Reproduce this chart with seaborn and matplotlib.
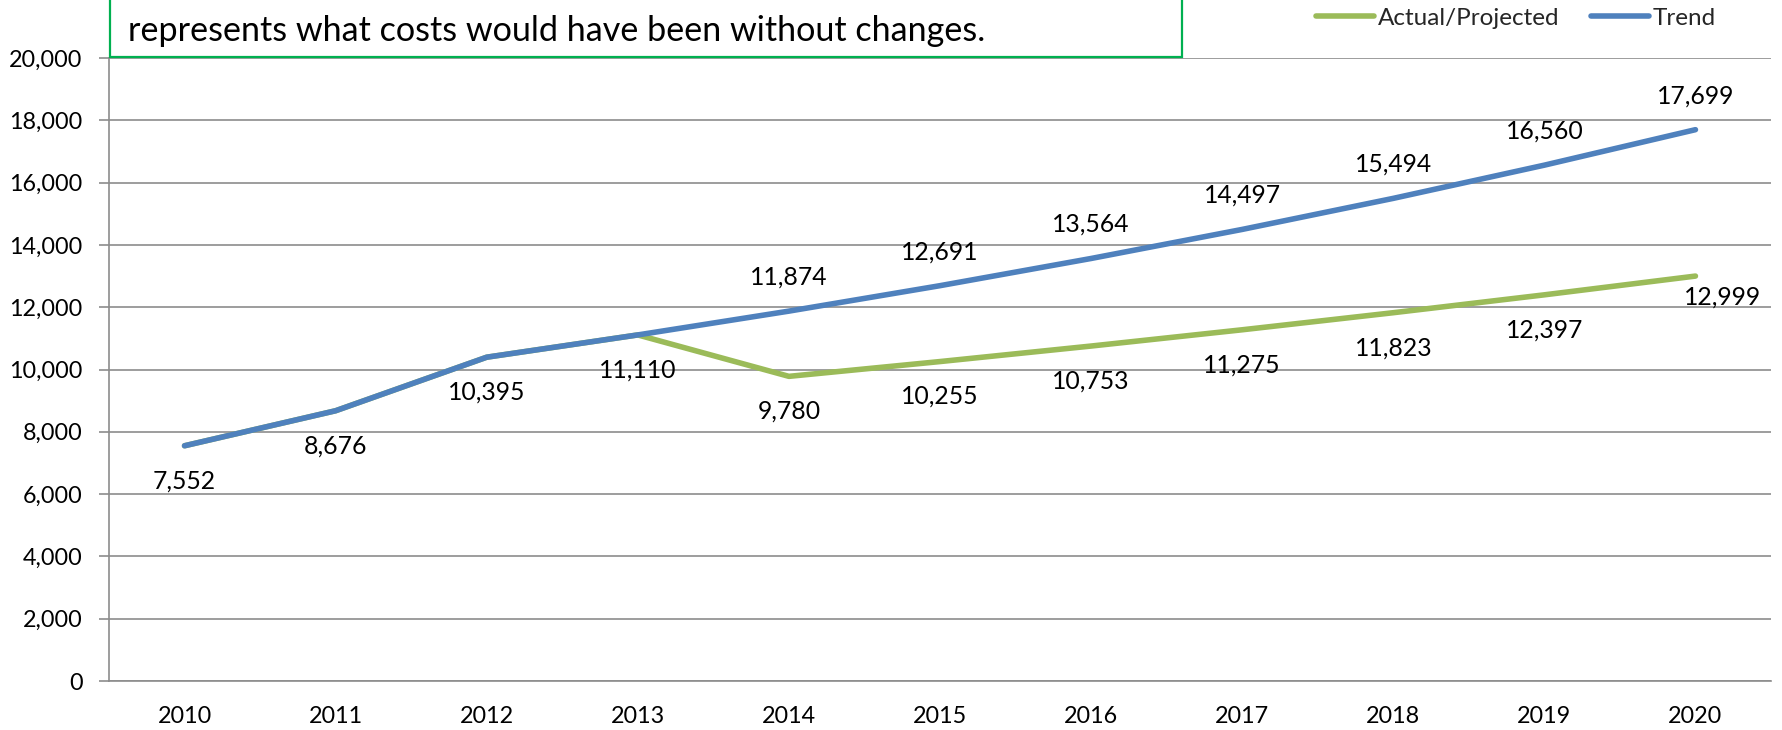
import numpy as np
import pandas as pd
import matplotlib
matplotlib.use("Agg")
import matplotlib.pyplot as plt
from matplotlib.patches import Rectangle
import seaborn as sns

years = [2010, 2011, 2012, 2013, 2014, 2015, 2016, 2017, 2018, 2019, 2020]
actual_projected = [7552, 8676, 10395, 11110, 9780, 10255, 10753, 11275, 11823, 12397, 12999]
trend = [7552, 8676, 10395, 11110, 11874, 12691, 13564, 14497, 15494, 16560, 17699]
y_ticks = [0, 2000, 4000, 6000, 8000, 10000, 12000, 14000, 16000, 18000, 20000]
note_text = "represents what costs would have been without changes."

series_names = ["Actual/Projected", "Trend"]
palette = {"Actual/Projected": "#9BBB59", "Trend": "#4F81BD"}

pos = np.arange(len(years))
df = pd.concat([
    pd.DataFrame({"pos": pos, "value": actual_projected, "series": series_names[0]}),
    pd.DataFrame({"pos": pos, "value": trend, "series": series_names[1]}),
])

sns.set_theme(style="white")
plt.rcParams["font.family"] = ["Lato", "DejaVu Sans"]

W, H, DPI = 1782, 730, 100
fig = plt.figure(figsize=(W / DPI, H / DPI), dpi=DPI)
ax = fig.add_axes([109 / W, 1 - 681 / H, (1771 - 109) / W, (681 - 58) / H])

axis_grey = "#8C8C8C"
sns.lineplot(data=df, x="pos", y="value", hue="series", hue_order=series_names,
             palette=palette, linewidth=4.0, ax=ax, legend=False,
             solid_capstyle="round", solid_joinstyle="round")

ax.set_xlim(-0.5, len(years) - 0.5)
ax.set_ylim(0, 20000)
ax.set_yticks(y_ticks)
ax.set_yticklabels([f"{v:,}" for v in y_ticks], fontsize=16.8, color="black")
ax.set_xticks(pos)
ax.set_xticklabels([str(y) for y in years], fontsize=16.8, color="black")
ax.set_xticks(np.arange(-0.5, len(years)), minor=True)
ax.tick_params(axis="x", which="major", length=0, pad=18)
ax.tick_params(axis="x", which="minor", length=7, width=1.2, color=axis_grey, direction="out")
ax.tick_params(axis="y", which="major", length=7, width=1.2, color=axis_grey,
               direction="out", pad=12, left=True)
ax.set_xlabel("")
ax.set_ylabel("")

ax.grid(axis="y", color=axis_grey, linewidth=1.2)
ax.grid(axis="x", visible=False)
ax.set_axisbelow(True)
for side in ["top", "right"]:
    ax.spines[side].set_visible(False)
for side in ["left", "bottom"]:
    ax.spines[side].set_color(axis_grey)
    ax.spines[side].set_linewidth(1.2)

# value labels: actual/projected below the line, trend above once the lines split
label_kw = dict(textcoords="offset pixels", ha="center", va="center",
                fontsize=17.8, color="black")
for i, v in enumerate(actual_projected):
    dx, dy = (27, -21) if i == len(years) - 1 else (0, -35)
    ax.annotate(f"{v:,}", (pos[i], v), xytext=(dx, dy), **label_kw)
for i, v in enumerate(trend):
    if trend[i] != actual_projected[i]:
        ax.annotate(f"{v:,}", (pos[i], v), xytext=(0, 34), **label_kw)

# legend across the top right
handles = [plt.Line2D([], [], color=palette[n], linewidth=4.0, solid_capstyle="round")
           for n in series_names]
fig.legend(handles, series_names, loc="center left",
           bbox_to_anchor=(1316 / W, 1 - 18 / H), ncol=2, frameon=False,
           fontsize=17.5, handlelength=2.4, handletextpad=0.15,
           columnspacing=1.3, borderpad=0, borderaxespad=0)

# note box above the plot
fig.add_artist(Rectangle((110 / W, 1 - 57 / H), (1182 - 110) / W, 0.2,
                         transform=fig.transFigure, facecolor="white",
                         edgecolor="#00B050", linewidth=1.6, clip_on=False))
fig.text(128 / W, 1 - 31 / H, note_text, ha="left", va="center",
         fontsize=24.6, color="black")

fig.savefig("out.png", dpi=DPI)
